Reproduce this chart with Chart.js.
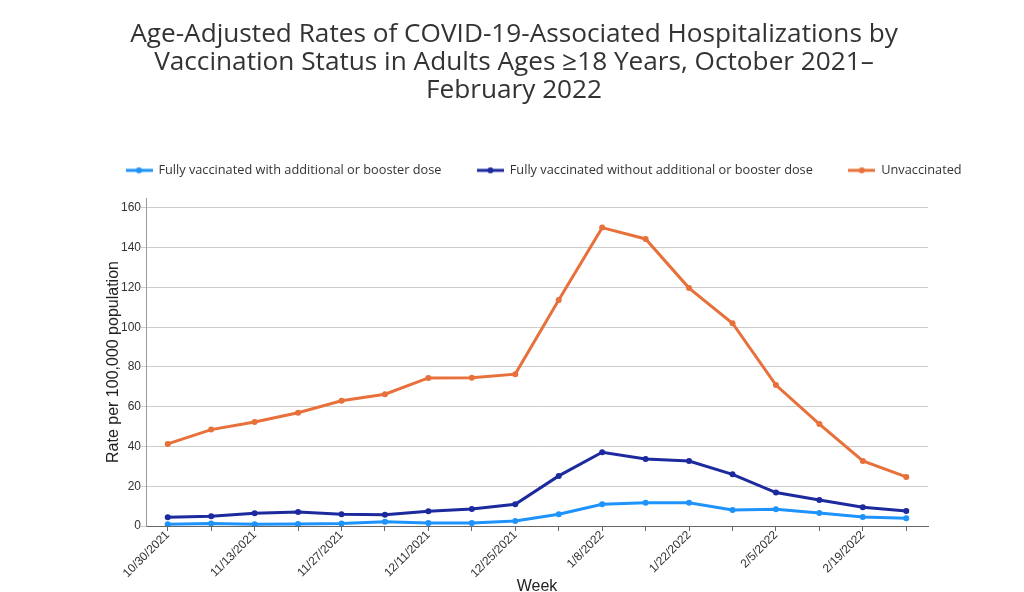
<!DOCTYPE html>
<html>
<head>
<meta charset="utf-8">
<script src="https://cdn.jsdelivr.net/npm/chart.js@4"></script>
<style>
  html, body { margin: 0; padding: 0; background: #ffffff; }
  #wrap { width: 1024px; height: 592px; }
</style>
</head>
<body>
<div id="wrap"><canvas id="c" width="1024" height="592"></canvas></div>
<script>
const weeks = ['10/30/2021','11/6/2021','11/13/2021','11/20/2021','11/27/2021','12/4/2021','12/11/2021','12/18/2021','12/25/2021','1/1/2022','1/8/2022','1/15/2022','1/22/2022','1/29/2022','2/5/2022','2/12/2022','2/19/2022','2/26/2022'];
const boosterRates = [0.9, 1.3, 0.9, 1.0, 1.2, 2.2, 1.5, 1.5, 2.5, 5.9, 10.9, 11.7, 11.7, 8.0, 8.4, 6.5, 4.5, 3.9];
const noBoosterRates = [4.4, 4.9, 6.4, 7.0, 5.9, 5.7, 7.4, 8.6, 10.9, 25.2, 37.1, 33.7, 32.7, 26.0, 16.8, 13.1, 9.4, 7.5];
const unvaccinatedRates = [41.3, 48.5, 52.3, 57.0, 63.0, 66.3, 74.5, 74.6, 76.4, 113.7, 150.1, 144.4, 119.7, 102.0, 70.9, 51.3, 32.7, 24.7];
const seriesNames = ['Fully vaccinated with additional or booster dose', 'Fully vaccinated without additional or booster dose', 'Unvaccinated'];
const yTicks = [0, 20, 40, 60, 80, 100, 120, 140, 160];
const titleLines = ['Age-Adjusted Rates of COVID-19-Associated Hospitalizations by', 'Vaccination Status in Adults Ages \u226518 Years, October 2021\u2013', 'February 2022'];

const colors = ['#1e93fb', '#1c2a9e', '#e8703a'];

function legendIcon(color) {
  const cv = document.createElement('canvas');
  cv.width = 27; cv.height = 8;
  const g = cv.getContext('2d');
  g.strokeStyle = color; g.lineWidth = 3;
  g.beginPath(); g.moveTo(0, 4); g.lineTo(27, 4); g.stroke();
  g.fillStyle = color;
  g.beginPath(); g.arc(13.5, 4, 3, 0, Math.PI * 2); g.fill();
  return cv;
}
const icons = colors.map(legendIcon);

function ds(name, data, color) {
  return {
    label: name, data: data, borderColor: color, backgroundColor: color,
    borderWidth: 3, pointRadius: 3, pointHoverRadius: 3, pointBackgroundColor: color,
    pointBorderColor: color, pointBorderWidth: 0, tension: 0, fill: false
  };
}

const legendTweak = {
  id: 'legendTweak',
  beforeLayout(chart) {
    const lg = chart.legend;
    if (lg && !lg._patched) {
      const f = lg.fit;
      lg.fit = function () {
        this.maxWidth = 1000;
        f.call(this);
        this.height = 70;
      };
      lg._patched = true;
    }
  },
  afterLayout(chart) {
    const lg = chart.legend;
    if (lg) { lg.left = 90; lg.right = 1020; }
  }
};

new Chart(document.getElementById('c'), {
  type: 'line',
  data: {
    labels: weeks,
    datasets: [
      ds(seriesNames[0], boosterRates, colors[0]),
      ds(seriesNames[1], noBoosterRates, colors[1]),
      ds(seriesNames[2], unvaccinatedRates, colors[2])
    ]
  },
  options: {
    responsive: false,
    animation: false,
    layout: { padding: { left: 100, right: 96, top: 0, bottom: 0 } },
    plugins: {
      title: {
        display: true,
        text: titleLines,
        color: '#333333',
        font: { family: '"Open Sans", sans-serif', size: 26.2, weight: 'normal', lineHeight: 28 / 26.2 },
        padding: { top: 21, bottom: 23 }
      },
      legend: {
        display: true,
        align: 'start',
        labels: {
          usePointStyle: true,
          pointStyleWidth: 26,
          padding: 36,
          color: '#333333',
          font: { family: '"Open Sans", sans-serif', size: 12.75 },
          generateLabels(chart) {
            return chart.data.datasets.map((d, i) => ({
              text: d.label, fillStyle: colors[i], strokeStyle: colors[i], lineWidth: 0,
              pointStyle: icons[i], datasetIndex: i, hidden: false, fontColor: '#333333'
            }));
          }
        }
      },
      tooltip: { enabled: false }
    },
    scales: {
      x: {
        type: 'category',
        offset: true,
        afterFit(s) { s.height = 66; },
        grid: { display: true, drawOnChartArea: false, drawTicks: true, tickLength: 5, color: '#666666', offset: false },
        border: { display: true, color: '#666666', width: 1 },
        ticks: {
          autoSkip: false, maxRotation: 45, minRotation: 45, padding: -3,
          color: '#333333', font: { family: '"Liberation Sans", Arial, sans-serif', size: 12 },
          callback(v, i) { return i % 2 === 0 ? weeks[i] : ''; }
        },
        title: {
          display: true, text: 'Week', color: '#222222',
          font: { family: '"Liberation Sans", Arial, sans-serif', size: 16, lineHeight: 1 },
          padding: { top: 0, bottom: -3 }
        }
      },
      y: {
        min: 0, max: 165,
        afterFit(s) { s.width = 46; },
        afterBuildTicks(s) { s.ticks = yTicks.map(v => ({ value: v })); },
        grid: { color: '#cccccc', lineWidth: 1, tickLength: 5, drawTicks: true },
        border: { display: true, color: '#999999', width: 1 },
        ticks: { color: '#333333', font: { family: '"Liberation Sans", Arial, sans-serif', size: 12 }, padding: 0 },
        title: {
          display: true, text: 'Rate per 100,000 population', color: '#222222',
          font: { family: '"Liberation Sans", Arial, sans-serif', size: 16, lineHeight: 1.2 },
          padding: { top: 4, bottom: 4 }
        }
      }
    }
  },
  plugins: [legendTweak]
});
</script>
</body>
</html>
